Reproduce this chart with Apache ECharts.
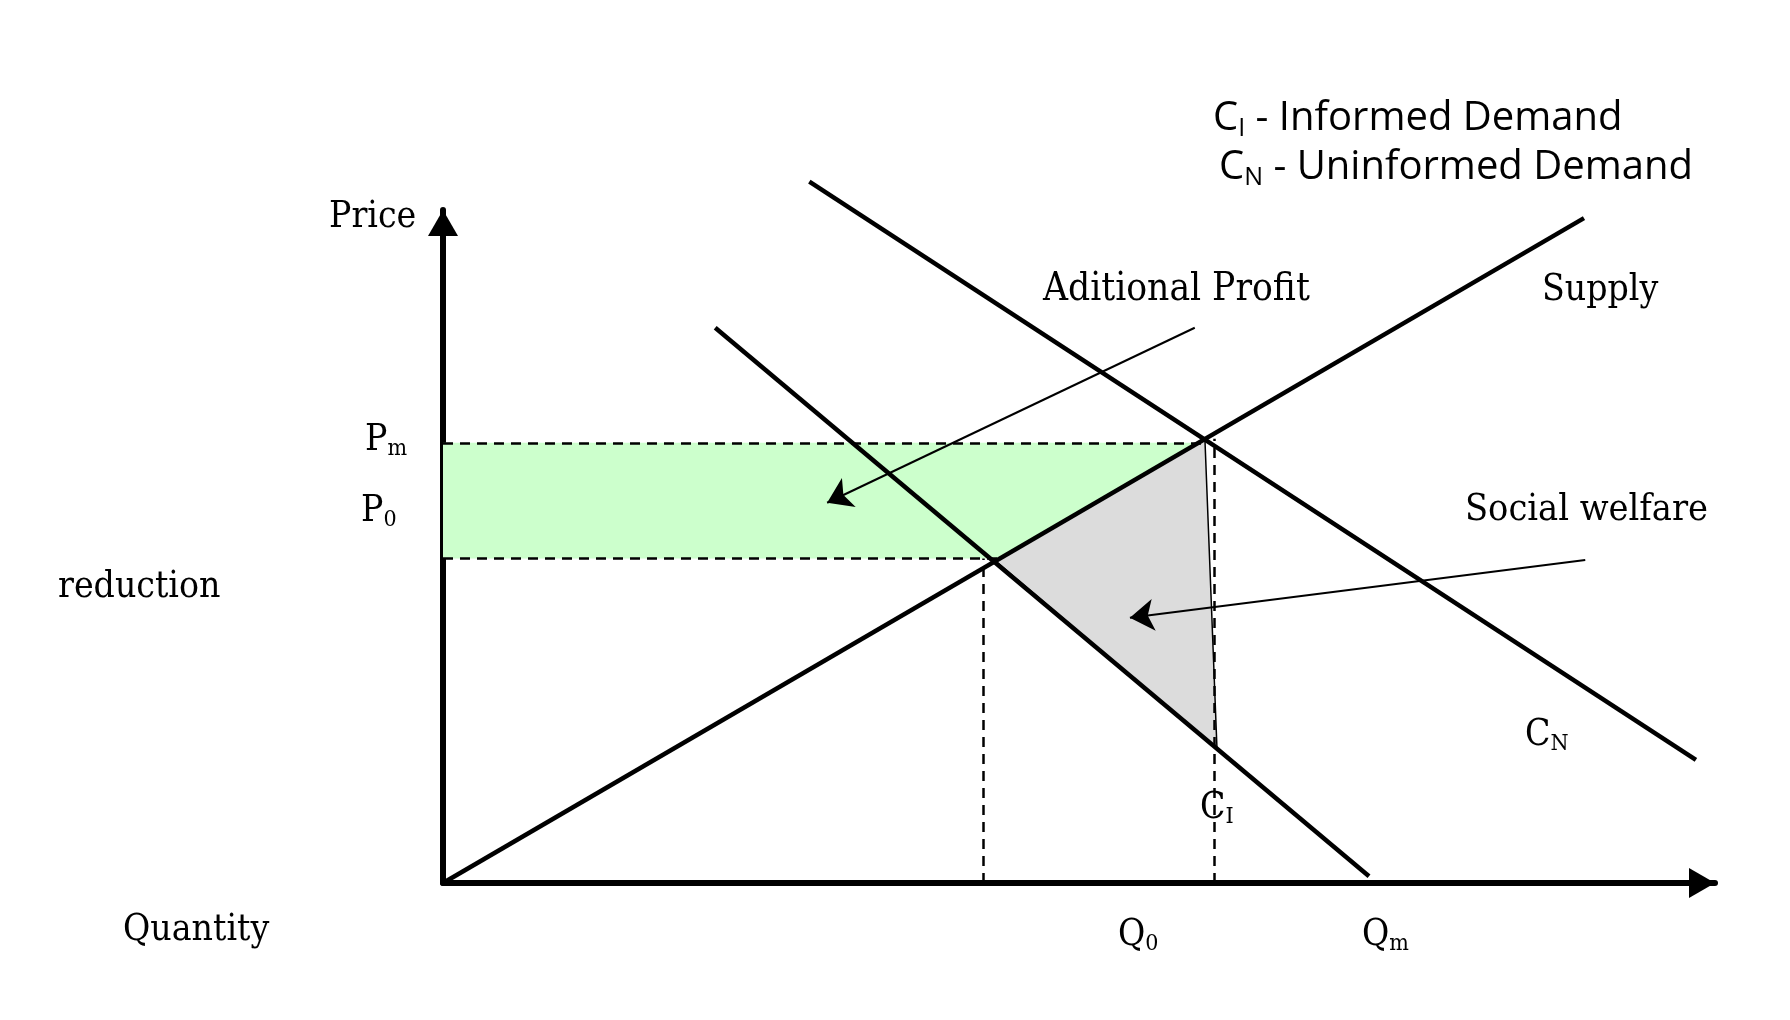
<!DOCTYPE html>
<html>
<head>
<meta charset="utf-8">
<script src="https://cdn.jsdelivr.net/npm/echarts@6/dist/echarts.min.js"></script>
<style>
html,body{margin:0;padding:0;background:#fff}
#chart{width:1790px;height:1020px}
</style>
</head>
<body>
<div id="chart"></div>
<script>
// 曲线端点 [数量, 价格]
var supply = [[0, 0], [89.7, 98.8]];
var demandN = [[28.8, 104.2], [98.5, 18.3]];
var demandI = [[21.4, 82.5], [72.8, 1.0]];
// 均衡价格与数量
var pm = 65.4, p0 = 48.2;
var q0 = 42.5, qm = 60.6;
// 阴影区域顶点
var profitArea = [[0, 65.4], [59.4, 65.4], [43.6, 48.2], [0, 48.2]];
var welfareArea = [[43.4, 47.9], [59.9, 65.9], [60.85, 19.9]];
// 虚线
var dashLines = [
    [[0, pm], [59.9, pm]],
    [[0, p0], [43.6, p0]],
    [[q0, 0], [q0, p0]],
    [[qm, 0], [qm, 66.0]]
];
// 指示箭头
var profitArrow = [[59.1, 82.5], [30.2, 56.5]];
var welfareArrow = [[89.8, 48.0], [54.0, 39.4]];

var serif = "'DejaVu Serif Condensed', 'DejaVu Serif', serif";
var sans = "'Open Sans', 'Noto Sans', sans-serif";

//带下标的文字
function subText(x, y, main, sub, rest, size, font, drop) {
    var lh = size + 4;
    var subSize = Math.round(size * 0.62);
    var txt = '{a|' + main + '}{b|' + sub + '}' + (rest ? '{a|' + rest + '}' : '');
    return {
        type: 'text',
        x: x,
        y: y,
        style: {
            text: txt,
            fill: '#000',
            align: 'left',
            verticalAlign: 'middle',
            textAlign: 'left',
            textVerticalAlign: 'middle',
            rich: {
                a: {fontSize: size, fontFamily: font, lineHeight: lh, fill: '#000'},
                b: {fontSize: subSize, fontFamily: font, lineHeight: lh - 2 * drop, verticalAlign: 'bottom', fill: '#000'}
            }
        }
    };
}
function plainText(x, y, str, size, font) {
    return {
        type: 'text',
        x: x,
        y: y,
        style: {
            text: str,
            fill: '#000',
            fontSize: size,
            fontFamily: font,
            align: 'left',
            verticalAlign: 'middle',
            textAlign: 'left',
            textVerticalAlign: 'middle'
        }
    };
}

var curveStyle = {color: '#000', width: 4.5};
function curve(pts) {
    return {
        type: 'line',
        data: pts,
        symbol: 'none',
        clip: false,
        silent: true,
        z: 4,
        lineStyle: curveStyle
    };
}

var axisCommon = {
    type: 'value',
    min: 0,
    max: 100,
    axisLine: {
        show: true,
        symbol: ['none', 'triangle'],
        symbolSize: [30, 26],
        symbolOffset: [0, -13],
        lineStyle: {color: '#000', width: 6}
    },
    axisTick: {show: false},
    axisLabel: {show: false},
    splitLine: {show: false}
};

var chart = echarts.init(document.getElementById('chart'));
var option = {
    backgroundColor: '#fff',
    animation: false,
    grid: {left: 443, right: 75, top: 210, bottom: 137},
    xAxis: axisCommon,
    yAxis: axisCommon,
    series: [
        {
            type: 'custom',
            clip: false,
            silent: true,
            z: 1,
            data: [0, 1],
            renderItem: function (params, api) {
                var area = params.dataIndex === 0 ? profitArea : welfareArea;
                var pts = area.map(function (p) { return api.coord(p); });
                return {
                    type: 'polygon',
                    shape: {points: pts},
                    style: params.dataIndex === 0
                        ? {fill: '#ccffcc', stroke: null}
                        : {fill: '#dcdcdc', stroke: '#000', lineWidth: 1.5}
                };
            }
        },
        {
            type: 'lines',
            coordinateSystem: 'cartesian2d',
            silent: true,
            z: 3,
            symbol: 'none',
            lineStyle: {color: '#000', width: 2.5, type: [10, 7], opacity: 1},
            data: dashLines.map(function (c) { return {coords: c}; })
        },
        curve(supply),
        curve(demandN),
        curve(demandI),
        {
            type: 'lines',
            coordinateSystem: 'cartesian2d',
            silent: true,
            z: 5,
            symbol: ['none', 'arrow'],
            symbolSize: 24,
            lineStyle: {color: '#000', width: 2, opacity: 1},
            data: [{coords: profitArrow}, {coords: welfareArrow}]
        }
    ],
    graphic: [
        subText(1213, 119, 'C', 'I', ' - Informed Demand', 40, sans, 7),
        subText(1219, 168, 'C', 'N', ' - Uninformed Demand', 40, sans, 7),
        plainText(329, 217, 'Price', 37, serif),
        subText(365, 440, 'P', 'm', '', 37, serif, 10),
        subText(361, 511, 'P', '0', '', 37, serif, 10),
        plainText(58, 587, 'reduction', 37, serif),
        plainText(123, 930, 'Quantity', 37, serif),
        subText(1118, 935, 'Q', '0', '', 37, serif, 9),
        subText(1362, 935, 'Q', 'm', '', 37, serif, 9),
        subText(1200, 808, 'C', 'I', '', 37, serif, 10),
        subText(1525, 735, 'C', 'N', '', 37, serif, 10),
        plainText(1542, 290, 'Supply', 37, serif),
        plainText(1043, 290, 'Aditional Profit', 38.5, serif),
        plainText(1465, 510, 'Social welfare', 37.5, serif)
    ]
};
chart.setOption(option);
</script>
</body>
</html>
